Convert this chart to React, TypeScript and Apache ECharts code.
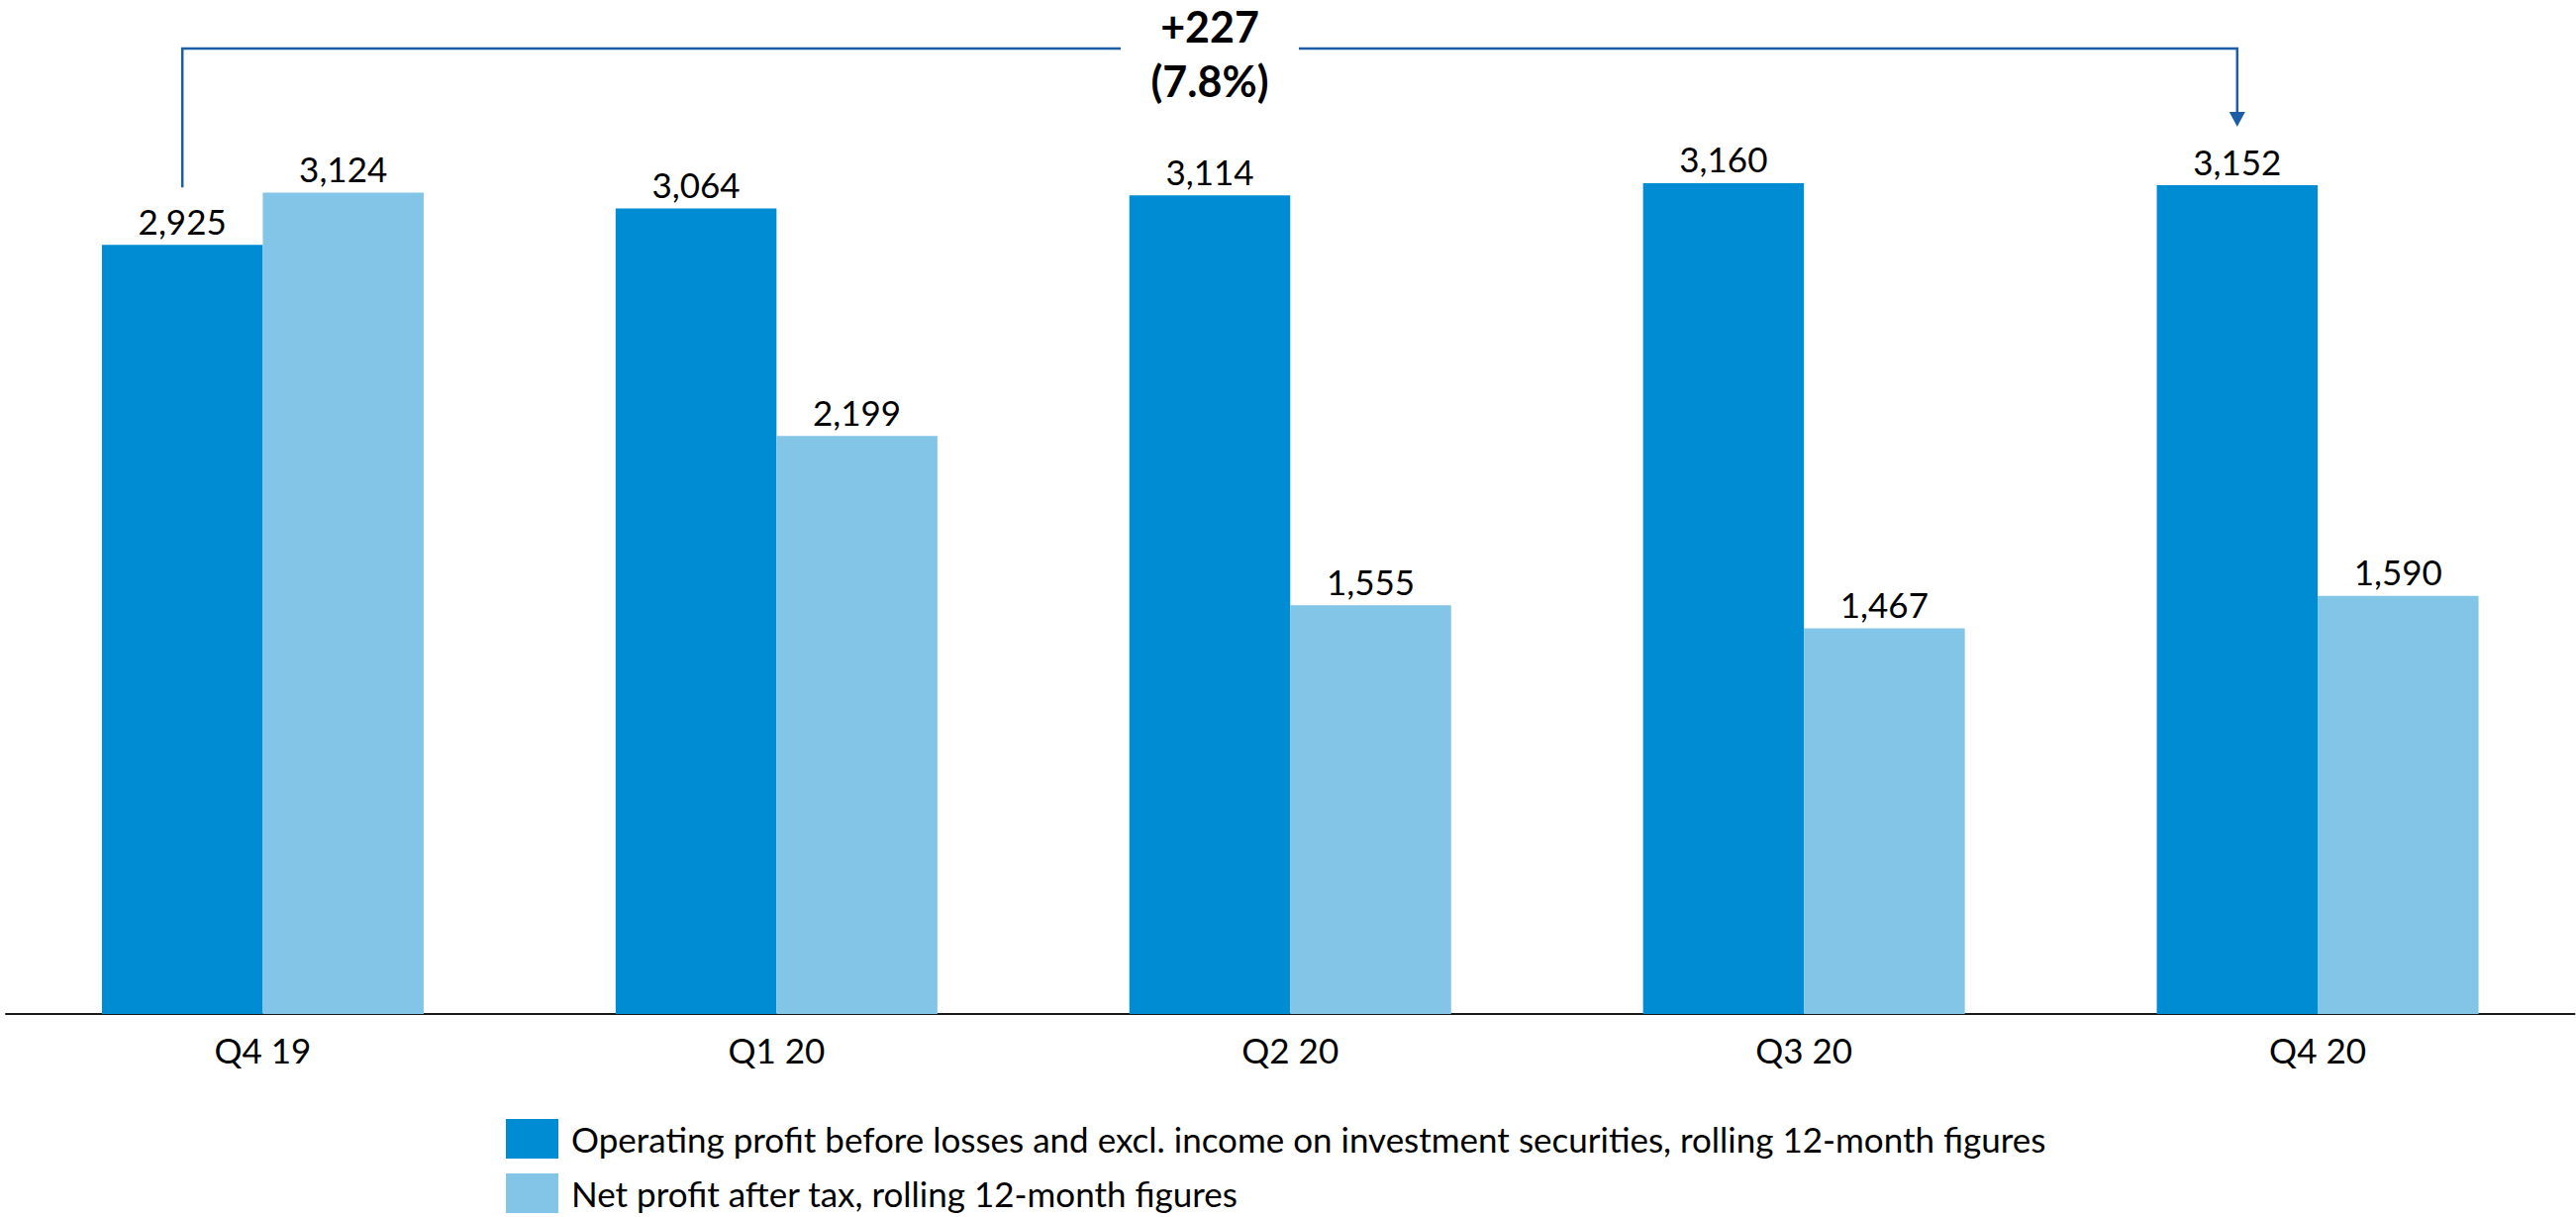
import React, { useEffect, useRef } from "react";
import * as echarts from "echarts";

const categories = ["Q4 19", "Q1 20", "Q2 20", "Q3 20", "Q4 20"];
const operatingProfit = [2925, 3064, 3114, 3160, 3152];
const netProfit = [3124, 2199, 1555, 1467, 1590];
const seriesNames = [
  "Operating profit before losses and excl. income on investment securities, rolling 12-month figures",
  "Net profit after tax, rolling 12-month figures",
];
const changeLines = ["+227", "(7.8%)"];

const DARK = "#008CD2";
const LIGHT = "#82C5E7";
const BRACKET = "#1B5EA6";
const FONT = "Lato, 'Noto Sans', sans-serif";

export default function App() {
  const ref = useRef<HTMLDivElement>(null);
  useEffect(() => {
    if (!ref.current) return;
    document.body.style.margin = "0";
    const chart = echarts.init(ref.current, undefined, { renderer: "svg" });
    const fmt = (p: any) => Number(p.value).toLocaleString("en-US");
    const BW = 162.5;
    chart.setOption({
      animation: false,
      backgroundColor: "#fff",
      grid: { left: 6, right: 1.5, top: 94.7, bottom: 205, containLabel: false },
      xAxis: {
        type: "category",
        data: categories,
        axisTick: { show: false },
        axisLine: { lineStyle: { color: "#1a1a1a", width: 2 } },
        axisLabel: { fontSize: 35, fontFamily: FONT, color: "#000", margin: 18 },
      },
      yAxis: {
        type: "value",
        min: 0,
        max: 3500,
        show: false,
        splitLine: { show: false },
      },
      legend: {
        orient: "vertical",
        left: 511,
        top: 1130,
        padding: 0,
        itemWidth: 53,
        itemHeight: 40,
        itemGap: 15,
        icon: "rect",
        textStyle: { fontSize: 35, fontFamily: FONT, color: "#000", padding: [0, 0, 0, 8] },
        data: seriesNames,
      },
      series: [
        {
          name: seriesNames[0],
          type: "bar",
          data: operatingProfit,
          barWidth: BW,
          barGap: "0%",
          itemStyle: { color: DARK },
          label: { show: true, position: "top", distance: 7, fontSize: 35, fontFamily: FONT, color: "#000", formatter: fmt },
        },
        {
          name: seriesNames[1],
          type: "bar",
          data: netProfit,
          barWidth: BW,
          barGap: "0%",
          itemStyle: { color: LIGHT },
          label: { show: true, position: "top", distance: 7, fontSize: 35, fontFamily: FONT, color: "#000", formatter: fmt },
        },
      ],
    });

    // Bracket annotation positioned from the library's own layout
    const c0 = chart.convertToPixel({ xAxisIndex: 0 }, categories[0]) as number;
    const cN = chart.convertToPixel({ xAxisIndex: 0 }, categories[categories.length - 1]) as number;
    const x1 = c0 - BW / 2;
    const x2 = cN - BW / 2;
    const yStartVal = chart.convertToPixel({ yAxisIndex: 0 }, operatingProfit[0]) as number;
    const yEndVal = chart.convertToPixel({ yAxisIndex: 0 }, operatingProfit[operatingProfit.length - 1]) as number;
    const yTop = 49;
    const yStart = yStartVal - 58;
    const yTip = yEndVal - 59;
    const mid = (x1 + x2) / 2;
    const gapHalf = 90;
    chart.setOption({
      graphic: [
        {
          type: "polyline",
          shape: { points: [[x1, yStart], [x1, yTop], [mid - gapHalf, yTop]] },
          style: { stroke: BRACKET, lineWidth: 2.5, fill: null },
        },
        {
          type: "polyline",
          shape: { points: [[mid + gapHalf, yTop], [x2, yTop], [x2, yTip - 15]] },
          style: { stroke: BRACKET, lineWidth: 2.5, fill: null },
        },
        {
          type: "polygon",
          shape: { points: [[x2 - 8, yTip - 15], [x2 + 8, yTip - 15], [x2, yTip]] },
          style: { fill: BRACKET },
        },
        {
          type: "text",
          x: mid,
          y: 26,
          style: { text: changeLines[0], fontSize: 43, fontWeight: "bold", fontFamily: FONT, fill: "#000", align: "center", verticalAlign: "middle" },
        },
        {
          type: "text",
          x: mid,
          y: 81,
          style: { text: changeLines[1], fontSize: 43, fontWeight: "bold", fontFamily: FONT, fill: "#000", align: "center", verticalAlign: "middle" },
        },
      ],
    });

    return () => chart.dispose();
  }, []);
  return <div ref={ref} style={{ position: "absolute", left: 0, top: 0, width: 2602, height: 1229 }} />;
}
